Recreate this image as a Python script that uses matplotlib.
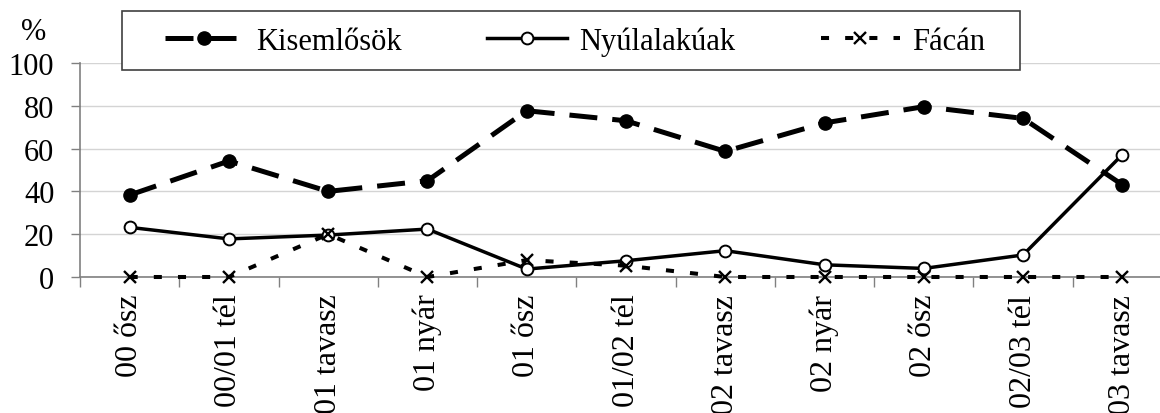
import matplotlib
matplotlib.use("Agg")
import matplotlib.pyplot as plt
from matplotlib.patches import Rectangle
import numpy as np

plt.rcParams['font.family'] = ['Liberation Serif', 'DejaVu Serif']

categories = ["00 ősz", "00/01 tél", "01 tavasz", "01 nyár", "01 ősz", "01/02 tél",
              "02 tavasz", "02 nyár", "02 ősz", "02/03 tél", "03 tavasz"]
kisemlosok = [38.3, 54.2, 40.0, 45.0, 77.7, 73.0, 58.7, 72.0, 79.6, 74.1, 43.1]
nyulalakuak = [23.2, 17.8, 19.6, 22.4, 3.7, 7.6, 12.3, 5.7, 4.0, 10.3, 57.2]
facan = [0, 0, 20.0, 0, 7.9, 5.3, 0, 0, 0, 0, 0]
yticks = [0, 20, 40, 60, 80, 100]

W, H = 1160, 414
fig = plt.figure(figsize=(W / 100, H / 100), dpi=100)
left, right = 80, 1172
y0, y100 = 278, 64
ax = fig.add_axes([left / W, 1 - y0 / H, (right - left) / W, (y0 - y100) / H])

x = np.arange(len(categories))
grey = '#808080'

ax.plot(x, nyulalakuak, color='black', lw=2.5, linestyle='-', marker='o',
        markersize=8.5, markerfacecolor='white', markeredgecolor='black',
        markeredgewidth=1.4, label='Nyúlalakúak', zorder=3, clip_on=False)
ax.plot(x, facan, color='black', lw=2.9, linestyle=(0, (2.0, 4.0)), marker='x',
        markersize=8.5, markeredgewidth=1.7, label='Fácán', zorder=4, clip_on=False,
        dash_capstyle='butt')
ax.plot(x, kisemlosok, color='black', lw=3.6, linestyle=(0, (5.6, 3.0)), marker='o',
        markersize=9.5, markerfacecolor='black', markeredgecolor='black',
        label='Kisemlősök', zorder=5, clip_on=False, dash_capstyle='butt')

ax.set_xlim(-0.5, len(categories) - 0.5)
ax.set_ylim(0, 100)
ax.set_yticks(yticks)
ax.set_yticklabels([str(v) for v in yticks], fontsize=22)
ax.set_xticks(x)
ax.set_xticklabels(categories, rotation=90, fontsize=23, va='top', ha='center')
ax.set_xticks(np.arange(-0.5, len(categories)), minor=True)
ax.tick_params(axis='x', which='major', length=0, pad=12)
ax.tick_params(axis='x', which='minor', length=7, width=1, color=grey, direction='out')
ax.tick_params(axis='y', length=6.5, width=1, color=grey, direction='out', pad=12)

ax.yaxis.grid(True, color='#d4d4d4', lw=1)
ax.set_axisbelow(True)
for s in ['top', 'right']:
    ax.spines[s].set_visible(False)
for s in ['left', 'bottom']:
    ax.spines[s].set_color(grey)
    ax.spines[s].set_linewidth(1.2)
ax.spines['bottom'].set_zorder(2)

fig.text(34 / W, 1 - 33 / H, '%', fontsize=22, ha='center', va='center')

# legend frame
fig.patches.append(Rectangle((122 / W, 1 - 71 / H), (1020 - 122) / W, (71 - 12) / H,
                             transform=fig.transFigure, facecolor='white',
                             edgecolor='#404040', lw=1.2, zorder=10))

h = {l.get_label(): l for l in ax.get_lines()}
leg = fig.legend([h['Kisemlősök'], h['Nyúlalakúak'], h['Fácán']],
                 ['Kisemlősök', 'Nyúlalakúak', 'Fácán'],
                 loc='center', bbox_to_anchor=(575 / W, 1 - 42 / H),
                 ncol=3, fontsize=22, frameon=False,
                 handlelength=2.6, handletextpad=0.4, columnspacing=2.8,
                 borderpad=0, borderaxespad=0)
leg.set_zorder(11)

fig.savefig('out.png', dpi=100)
